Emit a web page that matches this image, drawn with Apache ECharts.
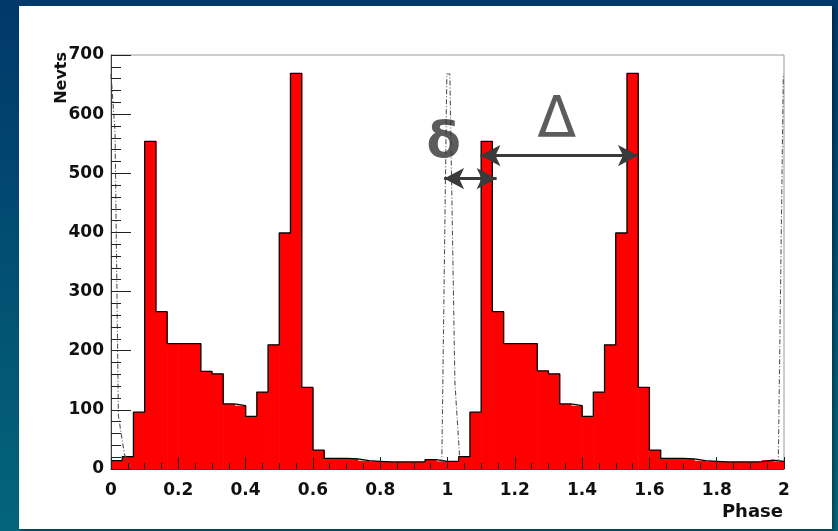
<!DOCTYPE html>
<html>
<head>
<meta charset="utf-8">
<script src="https://cdn.jsdelivr.net/npm/echarts@6/dist/echarts.min.js"></script>
<style>
  html, body { margin: 0; padding: 0; width: 838px; height: 531px; overflow: hidden; }
  #bg { position: absolute; left: 0; top: 0; width: 838px; height: 531px;
        background: linear-gradient(180deg, #01386a 0%, #024f73 50%, #04657a 100%); }
  #panel { position: absolute; left: 19px; top: 6px; width: 813px; height: 523px; background: #ffffff;
           box-shadow: 2px 2px 3px rgba(0,0,0,0.35); }
  #chart { position: absolute; left: 0; top: 0; width: 838px; height: 531px; }
</style>
</head>
<body>
<div id="bg"></div>
<div id="panel"></div>
<div id="chart"></div>
<script>
// ---- data ----
const phaseRange = [0, 2];
const yRange = [0, 700];
// Gamma-ray events per phase bin (60 bins over two rotations)
const counts = [
  14, 21, 96, 554, 266, 212, 212, 212, 165, 161,
  110, 107, 89, 130, 210, 399, 669, 138, 32, 18,
  18, 17, 14, 13, 12, 12, 12, 12, 16, 13,
  13, 21, 96, 554, 266, 212, 212, 212, 166, 161,
  110, 107, 89, 130, 210, 399, 669, 138, 32, 18,
  18, 17, 14, 13, 12, 12, 12, 12, 15, 13
];
// Radio pulse profile (dash-dotted), gaps marked with '-'
const radioPhase = [0, 0.004, 0.012, 0.022, 0.04, 0.058, '-', 0.983, 0.998, 1.007, 1.022, 1.037, '-', 1.983, 1.998, 2.0];
const radioValue = [668, 668, 570, 90, 25, 2, '-', 8, 668, 668, 146, 12, '-', 8, 668, 668];
// Annotations
const smallDeltaArrow = [[0.99, 491], [1.146, 491]];
const bigDeltaArrow = [[1.098, 530], [1.566, 530]];
const annotationText = ['δ', 'Δ'];
const annotationPos = [[0.989, 550], [1.325, 587]];
const xTickLabels = ['0', '0.2', '0.4', '0.6', '0.8', '1', '1.2', '1.4', '1.6', '1.8', '2'];

// ---- build ----
const nBins = counts.length;
const binW = (phaseRange[1] - phaseRange[0]) / nBins;
const histData = counts.map((c, i) => [phaseRange[0] + i * binW, phaseRange[0] + (i + 1) * binW, c]);
const outline = counts.map((c, i) => [phaseRange[0] + i * binW, c]);
outline.push([phaseRange[1], counts[nBins - 1]]);
const radioData = radioPhase.map((p, i) => [p, radioValue[i]]);
const annotationStyles = [
  { fontWeight: 'bold', fontSize: 50 },
  { fontWeight: 'normal', fontSize: 57 }
];

const FONT = '"DejaVu Sans", "Liberation Sans", Arial, sans-serif';
const chart = echarts.init(document.getElementById('chart'), null, { renderer: 'canvas' });

chart.setOption({
  animation: false,
  backgroundColor: 'transparent',
  grid: { left: 111, right: 54, top: 55, bottom: 62, show: true, borderColor: '#9a9a9a', borderWidth: 1 },
  xAxis: {
    type: 'value', min: phaseRange[0], max: phaseRange[1], interval: 0.2, z: 10,
    name: 'Phase', nameLocation: 'end', nameGap: -1,
    nameTextStyle: { fontFamily: FONT, fontWeight: 'bold', fontSize: 18, color: '#111', align: 'right', verticalAlign: 'top', padding: [34, 0, 0, 0] },
    axisLine: { show: true, onZero: false, lineStyle: { color: '#444', width: 1 } },
    axisTick: { show: true, inside: true, length: 12, lineStyle: { color: '#222', width: 1 } },
    minorTick: { show: true, splitNumber: 4, length: 6, lineStyle: { color: '#222', width: 1 } },
    splitLine: { show: false },
    axisLabel: {
      fontFamily: FONT, fontWeight: 'bold', fontSize: 17, color: '#111', margin: 13,
      formatter: (v) => xTickLabels[Math.round((v - phaseRange[0]) / 0.2)]
    }
  },
  yAxis: {
    type: 'value', min: yRange[0], max: yRange[1], interval: 100, z: 10,
    axisLine: { show: true, lineStyle: { color: '#444', width: 1 } },
    axisTick: { show: true, inside: true, length: 20, lineStyle: { color: '#222', width: 1 } },
    minorTick: { show: true, splitNumber: 5, length: 10, lineStyle: { color: '#222', width: 1 } },
    splitLine: { show: false },
    axisLabel: { fontFamily: FONT, fontWeight: 'bold', fontSize: 17, color: '#111', margin: 7, padding: [4, 0, 0, 0] }
  },
  graphic: [{
    type: 'text', x: 62, y: 52, rotation: Math.PI / 2,
    style: { text: 'Nevts', fontFamily: FONT, fontWeight: 'bold', fontSize: 16, fill: '#111', align: 'right', verticalAlign: 'middle' }
  }],
  series: [
    {
      type: 'custom', z: 2,
      renderItem: (params, api) => {
        const p0 = api.coord([api.value(0), api.value(2)]);
        const p1 = api.coord([api.value(1), 0]);
        return { type: 'rect', shape: { x: p0[0], y: p0[1], width: p1[0] - p0[0] + 0.6, height: p1[1] - p0[1] },
                 style: { fill: '#ff0000' } };
      },
      encode: { x: [0, 1], y: 2 },
      data: histData
    },
    {
      type: 'line', z: 3, step: 'end', symbol: 'none', data: outline,
      lineStyle: { color: '#000', width: 1.3 }
    },
    {
      type: 'line', z: 4, symbol: 'none', connectNulls: false, data: radioData,
      lineStyle: { color: '#555', width: 1.1, type: [5, 2, 1, 2] }
    },
    {
      type: 'scatter', z: 5, symbolSize: 1, itemStyle: { color: 'rgba(0,0,0,0)' },
      data: annotationPos.map((p, i) => ({ value: p, name: annotationText[i], label: annotationStyles[i] })),
      label: { show: true, position: 'inside', formatter: '{b}', fontFamily: FONT, fontSize: 54, color: '#333' },
      markLine: {
        silent: true, symbol: ['arrow', 'arrow'], symbolSize: [16, 20],
        label: { show: false },
        lineStyle: { color: '#3a3a3a', width: 3, type: 'solid' },
        data: [
          [{ coord: smallDeltaArrow[0] }, { coord: smallDeltaArrow[1] }],
          [{ coord: bigDeltaArrow[0] }, { coord: bigDeltaArrow[1] }]
        ]
      }
    }
  ]
});
</script>
</body>
</html>
